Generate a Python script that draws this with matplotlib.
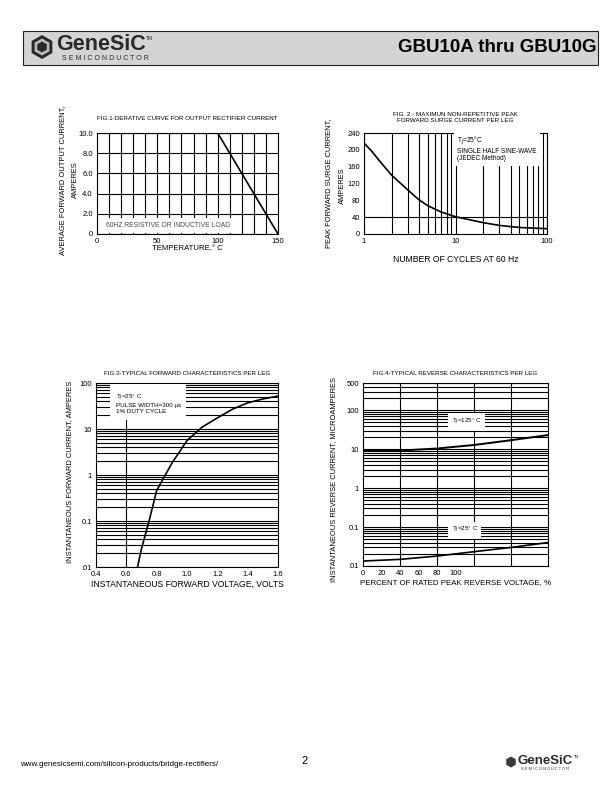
import matplotlib.pyplot as plt
from matplotlib.patches import Rectangle, RegularPolygon
from matplotlib.ticker import LogLocator, NullFormatter, FixedLocator

plt.rcParams['font.family'] = ['Liberation Sans', 'DejaVu Sans']

# dados
fig1_temp = [0, 100, 150]
fig1_corrente = [10.0, 10.0, 0.0]

fig2_ciclos = [1, 1.2, 1.5, 2, 3, 4, 5, 7, 10, 20, 30, 50, 100]
fig2_corrente = [216, 198, 172, 140, 105, 81, 67, 52, 41, 27, 20.5, 15.5, 12.6]

fig3_volts = [0.674, 0.7, 0.75, 0.8, 0.9, 1.0, 1.1, 1.2, 1.3, 1.4, 1.5, 1.6]
fig3_amps = [0.01, 0.025, 0.1, 0.46, 1.8, 5.6, 11, 17.4, 27, 37, 45, 52]

fig4_percent = [0, 40, 80, 120, 160, 200]
fig4_125c = [9.0, 9.2, 10.4, 12.8, 17.0, 23.0]
fig4_25c = [0.0134, 0.0148, 0.018, 0.0233, 0.030, 0.040]

W, H = 612, 792


def caixa(l, t, r, b):
    # posicao em pixels da pagina -> coordenadas da figura
    return [l / W, 1 - b / H, (r - l) / W, (b - t) / H]


fig = plt.figure(figsize=(6.12, 7.92), dpi=100)

# pagina (cabecalho e rodape)
pg = fig.add_axes([0, 0, 1, 1])
pg.set_xlim(0, W)
pg.set_ylim(H, 0)
pg.axis('off')

pg.add_patch(Rectangle((23, 31), 575, 34, facecolor='#d4d4d4', edgecolor='#222222', lw=0.8))
pg.add_patch(RegularPolygon((42, 47), 6, radius=12, facecolor='#2a2a2a'))
pg.add_patch(RegularPolygon((42, 47), 6, radius=8.5, facecolor='#bdbdbd'))
pg.add_patch(RegularPolygon((42, 47), 6, radius=5.5, facecolor='#2a2a2a'))
pg.text(56, 45, "GeneSiC", fontsize=15.5, fontweight='bold', color='#2a2a2a', va='center')
pg.text(146, 39, "TM", fontsize=3.5, color='#2a2a2a', va='center')
pg.text(62, 59, "S E M I C O N D U C T O R", fontsize=5, color='#2a2a2a', va='center')
pg.text(596, 47, "GBU10A thru GBU10G", fontsize=13.5, fontweight='bold', ha='right', va='center')

pg.text(20, 765, "www.genesicsemi.com/silicon-products/bridge-rectifiers/", fontsize=5.8, va='center')
pg.text(305, 761, "2", fontsize=8, ha='center', va='center')
pg.add_patch(RegularPolygon((511, 762), 6, radius=5.5, facecolor='#3a3a3a'))
pg.text(518, 761, "GeneSiC", fontsize=9.5, fontweight='bold', color='#2a2a2a', va='center')
pg.text(574, 757, "TM", fontsize=2.5, color='#2a2a2a', va='center')
pg.text(521, 769, "S E M I C O N D U C T O R", fontsize=2.8, color='#2a2a2a', va='center')

grade = dict(color='black', lw=0.8)
tick_fs = 5.5
lab_fs = 6.2
ylab_fs = 5.4
tit_fs = 4.5

# ---------------- FIG 1 ----------------
ax1 = fig.add_axes(caixa(97, 133, 278, 234))
ax1.plot(fig1_temp, fig1_corrente, color='black', lw=1.2)
ax1.set_xlim(0, 150)
ax1.set_ylim(0, 10)
ax1.set_xticks([0, 50, 100, 150])
ax1.set_yticks([0, 2, 4, 6, 8, 10], labels=['0', '2.0', '4.0', '6.0', '8.0', '10.0'])
ax1.xaxis.set_minor_locator(FixedLocator(range(10, 150, 10)))
ax1.xaxis.remove_overlapping_locs = False
ax1.grid(True, which='minor', axis='x', **grade)
ax1.grid(True, which='major', axis='y', **grade)
ax1.tick_params(which='both', length=0, labelsize=tick_fs, pad=3)
ax1.text(7.5, 0.85, "60HZ RESISTIVE OR INDUCTIVE LOAD", fontsize=4.9, color='#4a4a66',
         va='center', bbox=dict(facecolor='white', edgecolor='none', pad=3))
ax1.set_title("FIG.1-DERATIVE CURVE FOR OUTPUT RECTIFIER CURRENT", fontsize=tit_fs, pad=9)
ax1.set_xlabel("TEMPERATURE,° C", fontsize=5.6, labelpad=0)
fig.text(63 / W, 1 - 180 / H, "AVERAGE FORWARD OUTPUT CURRENT,", fontsize=ylab_fs,
         rotation=90, ha='center', va='center')
fig.text(75 / W, 1 - 180 / H, "AMPERES", fontsize=ylab_fs, rotation=90, ha='center', va='center')

# ---------------- FIG 2 ----------------
ax2 = fig.add_axes(caixa(364, 133, 547, 234))
ax2.plot(fig2_ciclos, fig2_corrente, color='black', lw=1.2)
ax2.set_xscale('log')
ax2.set_xlim(1, 100)
ax2.set_ylim(0, 240)
ax2.set_xticks([1, 10, 100], labels=['1', '10', '100'])
ax2.xaxis.set_minor_locator(LogLocator(base=10, subs=range(2, 10)))
ax2.xaxis.set_minor_formatter(NullFormatter())
ax2.set_yticks([0, 40, 80, 120, 160, 200, 240])
ax2.yaxis.set_minor_locator(FixedLocator([40]))
ax2.yaxis.remove_overlapping_locs = False
ax2.grid(True, which='both', axis='x', **grade)
ax2.grid(True, which='minor', axis='y', **grade)
ax2.tick_params(which='both', length=0, labelsize=tick_fs, pad=3)
ax2.text(10.5, 236, "T$_J$=25°C\nSINGLE HALF SINE-WAVE\n(JEDEC Method)", fontsize=4.7,
         va='top', linespacing=1.1,
         bbox=dict(facecolor='white', edgecolor='none', pad=2.5))
ax2.set_title("FIG. 2 - MAXIMUN NON-REPETITIVE PEAK\nFORWARD SURGE CURRENT PER LEG",
              fontsize=tit_fs, pad=8, linespacing=1.2)
ax2.set_xlabel("NUMBER OF CYCLES AT 60 Hz", fontsize=lab_fs, labelpad=7)
fig.text(329 / W, 1 - 183 / H, "PEAK FORWARD SURGE CURRENT,", fontsize=ylab_fs,
         rotation=90, ha='center', va='center')
fig.text(342 / W, 1 - 186 / H, "AMPERES", fontsize=ylab_fs, rotation=90, ha='center', va='center')

# ---------------- FIG 3 ----------------
ax3 = fig.add_axes(caixa(96, 383, 278, 567))
ax3.plot(fig3_volts, fig3_amps, color='black', lw=1.2)
ax3.set_yscale('log')
ax3.set_xlim(0.4, 1.6)
ax3.set_ylim(0.01, 100)
ax3.set_xticks([0.4, 0.6, 0.8, 1.0, 1.2, 1.4, 1.6])
ax3.set_yticks([0.01, 0.1, 1, 10, 100], labels=['.01', '0.1', '1', '10', '100'])
ax3.yaxis.set_minor_locator(LogLocator(base=10, subs=range(2, 10)))
ax3.yaxis.set_minor_formatter(NullFormatter())
ax3.xaxis.set_minor_locator(FixedLocator([0.6]))
ax3.xaxis.remove_overlapping_locs = False
ax3.grid(True, which='both', axis='y', **grade)
ax3.grid(True, which='minor', axis='x', **grade)
ax3.tick_params(which='both', length=0, labelsize=tick_fs, pad=3)
ax3.text(0.53, 62, "T$_J$=25° C\nPULSE WIDTH=300 μs\n1% DUTY CYCLE", fontsize=4.5,
         va='top', linespacing=1.15,
         bbox=dict(facecolor='white', edgecolor='none', pad=4))
ax3.set_title("FIG.3-TYPICAL FORWARD CHARACTERISTICS PER LEG", fontsize=tit_fs, pad=6)
ax3.set_xlabel("INSTANTANEOUS FORWARD VOLTAGE, VOLTS", fontsize=lab_fs, labelpad=1)
fig.text(70 / W, 1 - 472 / H, "INSTANTANEOUS FORWARD CURRENT, AMPERES", fontsize=ylab_fs,
         rotation=90, ha='center', va='center')

# ---------------- FIG 4 ----------------
ax4 = fig.add_axes(caixa(363, 383, 548, 566))
ax4.plot(fig4_percent, fig4_125c, color='black', lw=1.4)
ax4.plot(fig4_percent, fig4_25c, color='black', lw=1.2)
ax4.set_yscale('log')
ax4.set_xlim(0, 200)
ax4.set_ylim(0.01, 500)
ax4.set_xticks([0, 20, 40, 60, 80, 100])
ax4.set_yticks([0.01, 0.1, 1, 10, 100, 500], labels=['.01', '0.1', '1', '10', '100', '500'])
ax4.yaxis.set_minor_locator(LogLocator(base=10, subs=range(2, 10)))
ax4.yaxis.set_minor_formatter(NullFormatter())
ax4.xaxis.set_minor_locator(FixedLocator([40, 80, 120, 160]))
ax4.xaxis.remove_overlapping_locs = False
ax4.grid(True, which='both', axis='y', **grade)
ax4.grid(True, which='minor', axis='x', **grade)
ax4.tick_params(which='both', length=0, labelsize=tick_fs, pad=3)
caixa_txt = dict(facecolor='white', edgecolor='none', pad=2.5)
ax4.text(112, 50, "T$_J$=125° C", fontsize=4.5, ha='center', va='center', bbox=caixa_txt)
ax4.text(110, 0.083, "T$_J$=25° C", fontsize=4.5, ha='center', va='center', bbox=caixa_txt)
ax4.set_title("FIG.4-TYPICAL REVERSE CHARACTERISTICS PER LEG", fontsize=tit_fs, pad=6)
ax4.set_xlabel("PERCENT OF RATED PEAK REVERSE VOLTAGE, %", fontsize=5.7, labelpad=1)
fig.text(334 / W, 1 - 480 / H, "INSTANTANEOUS REVERSE CURRENT, MICROAMPERES", fontsize=ylab_fs,
         rotation=90, ha='center', va='center')

for ax in (ax1, ax2, ax3, ax4):
    for s in ax.spines.values():
        s.set_linewidth(0.8)

fig.savefig("out.png", dpi=100)
